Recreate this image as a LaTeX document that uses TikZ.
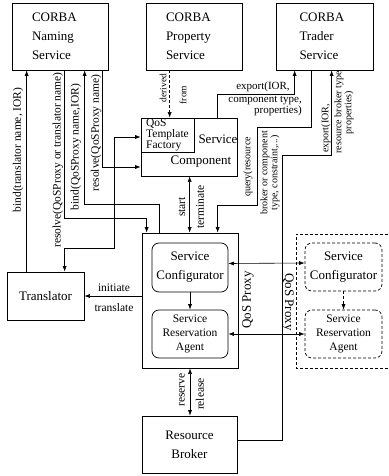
\documentclass[tikz,border=0pt]{standalone}
\usepackage{fontspec}
\setmainfont{Liberation Serif}
\usetikzlibrary{arrows.meta,calc}

\begin{document}
\begin{tikzpicture}[x=1pt,y=-1pt,
  box/.style={draw,line width=0.7pt,inner sep=0pt,align=center},
  rbox/.style={box,rounded corners=7pt},
  dline/.style={dash pattern=on 3pt off 2pt},
  big/.style={font=\fontsize{13}{19}\selectfont},
  lbl/.style={font=\fontsize{11.5}{13}\selectfont,inner sep=0pt},
  small/.style={font=\fontsize{10}{8.5}\selectfont,inner sep=0pt,align=center},
  conn/.style={line width=0.6pt},
  arr/.style={conn,-{Latex[length=5.5pt,width=4pt]}},
  arrb/.style={conn,{Latex[length=5.5pt,width=4pt]}-{Latex[length=5.5pt,width=4pt]}}]

\useasboundingbox (0,0) rectangle (388,476);

% CORBA services along the top
\node[box,big,minimum width=96pt,minimum height=67pt,text width=56pt,align=left] (naming) at (60,36.5) {CORBA\\Naming\\Service};
\node[box,big,minimum width=96pt,minimum height=67pt,text width=56pt,align=left] (prop) at (194,36.5) {CORBA\\Property\\Service};
\node[box,big,minimum width=97pt,minimum height=67pt,text width=50pt,align=left] (trader) at (324.5,36.5) {CORBA\\Trader\\Service};

% service component with its QoS template factory
\node[box,minimum width=96pt,minimum height=58pt] (comp) at (189,147) {};
\node[box,minimum width=53pt,minimum height=34pt,font=\fontsize{11.5}{9}\selectfont,align=left] (qtf) at (167.5,135) {QoS\\Template\\Factory};
\node[big,inner sep=0pt] (svc) at (218,139) {Service};
\node[big,inner sep=0pt] (cmp) at (201,162) {Component};

% local QoS proxy
\node[box,minimum width=96pt,minimum height=135pt] (proxy) at (190,300.5) {};
\node[rbox,big,minimum width=76pt,minimum height=49pt] (sc) at (190,267.5) {Service\\Configurator};
\node[rbox,font=\fontsize{11.5}{14}\selectfont,minimum width=76pt,minimum height=48pt] (sra) at (190,334) {Service\\Reservation\\Agent};
\node[big,inner sep=0pt,rotate=90] (pxl) at (248,300) {QoS Proxy};

% remote QoS proxy
\draw[conn,dline] (388,234) -| (296,368) -- (388,368);
\node[rbox,dline,big,minimum width=77pt,minimum height=48pt] (rsc) at (343.5,267) {Service\\Configurator};
\node[rbox,dline,font=\fontsize{11.5}{14}\selectfont,minimum width=77pt,minimum height=48pt] (rsra) at (343.5,334) {Service\\Reservation\\Agent};
\node[big,inner sep=0pt,rotate=-90] (rpxl) at (288,302) {QoS Proxy};

% translator and resource broker
\node[box,big,minimum width=77pt,minimum height=48pt] (trans) at (45.5,296) {Translator};
\node[box,big,minimum width=95pt,minimum height=57pt] (rb) at (189.5,444.5) {Resource\\Broker};

% naming service interactions
\draw[arr] ([xshift=20pt]trans.north west) -- ([xshift=15pt]naming.south west);
\node[lbl,rotate=90] (l1) at (18,150) {bind(translator name, IOR)};
\draw[arr] ([xshift=53pt]naming.south west) -- ++(0,148) -| ([xshift=5pt]proxy.north west);
\node[lbl,rotate=90] (l2) at (58,160) {resolve(QoSProxy or translator name)};
\draw[arr] ([xshift=18pt]proxy.north west) -- ++(0,-28) -| ([xshift=73pt]naming.south west);
\node[lbl,rotate=90] (l3) at (76,147) {bind(QoSProxy name,IOR)};
\draw[arr] ([xshift=91pt]naming.south west) |- ([yshift=-20pt]comp.west);
\node[lbl,rotate=90] (l4) at (96,133) {resolve(QoSProxy name)};
\draw[arrb] ([yshift=-2pt]qtf.west) -| (114,248) -| ([xshift=58pt]trans.north west);

% property service
\draw[arr,dline] ([xshift=24pt]prop.south west) -- ([xshift=29pt]qtf.north west);
\node[font=\fontsize{9.5}{11}\selectfont,inner sep=0pt,rotate=90] (l5) at (163,88) {derived};
\node[font=\fontsize{9.5}{11}\selectfont,inner sep=0pt,rotate=90] (l6) at (183,95) {from};

% trader service interactions
\draw[arr] ([xshift=77pt]comp.north west) -- ++(0,-23) -| ([xshift=19pt]trader.south west);
\node[font=\fontsize{11}{9}\selectfont,inner sep=0pt] (l7) at (263,87) {export(IOR,};
\node[font=\fontsize{11}{9}\selectfont,inner sep=0pt,align=right,anchor=east] (l8) at (302,106) {component type,\\properties)};
\draw[arr] ([xshift=36pt]trader.south west) -- ++(0,57) -| (257,205) -| ([xshift=76pt]proxy.north west);
\node[small,rotate=90] (l9) at (248,167) {query(resource};
\node[small,rotate=90] (l10) at (270,173) {broker or component\\type, constraint,...)};
\draw[arr] ([yshift=4.5pt]rb.east) -| (282,155) -| ([xshift=56pt]trader.south west);
\node[small,rotate=90,anchor=west] (l11) at (326,153) {export(IOR,};
\node[small,rotate=90] (l12) at (344,112.5) {resource broker type\\properties)};

% component lifecycle
\draw[arrb] ([xshift=49pt]comp.south west) -- ([xshift=48pt]proxy.north west);
\node[lbl,rotate=90] (l13) at (182,207) {start};
\node[lbl,rotate=90] (l14) at (200,207) {terminate};

% translator
\draw[arr] (trans.east -| proxy.west) -- (trans.east);
\node[lbl] (l15) at (114,288) {initiate};
\node[lbl] (l16) at (114,308) {translate};

% inside and between proxies
\draw[arr] (sc.south) -- (sra.north);
\draw[arr,dline] (rsc.south) -- (rsra.north);
\draw[arrb] ([yshift=4pt]sc.east) -- ([yshift=4pt]rsc.west);
\draw[arrb] (sra.east) -- (sra.east -| rsra.west);

% resource broker
\draw[arrb] (proxy.south) -- (proxy.south |- rb.north);
\node[lbl,rotate=90] (l17) at (182,390) {reserve};
\node[lbl,rotate=90] (l18) at (200,394) {release};

\end{tikzpicture}
\end{document}
